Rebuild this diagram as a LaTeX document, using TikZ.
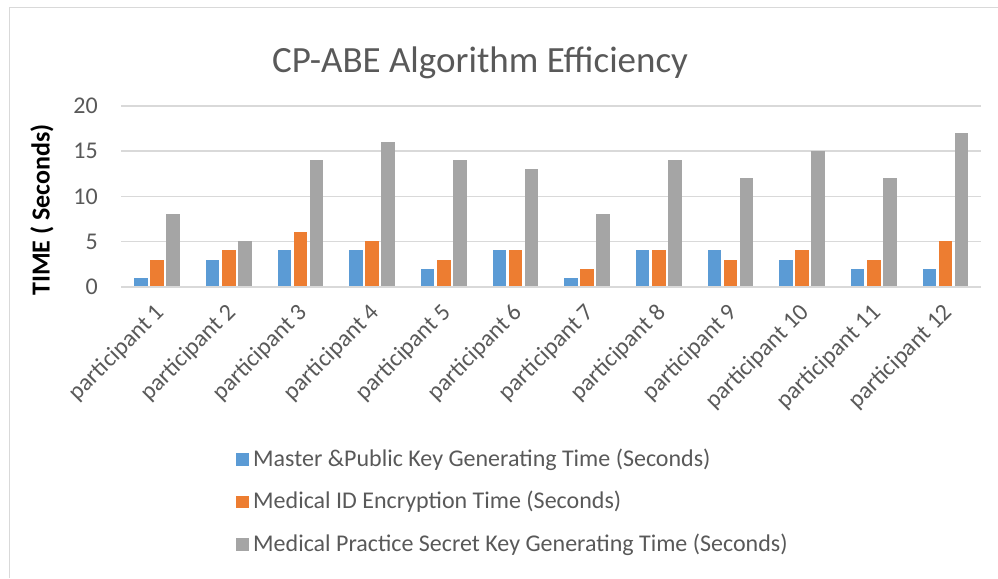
\documentclass[tikz,border=0pt]{standalone}
\usepackage{fontspec}
\setmainfont{Carlito}
\definecolor{serA}{HTML}{5B9BD5}
\definecolor{serB}{HTML}{ED7D31}
\definecolor{serC}{HTML}{A5A5A5}
\definecolor{gridc}{HTML}{D9D9D9}
\definecolor{txtc}{HTML}{595959}
\begin{document}
\begin{tikzpicture}[x=1pt,y=-1pt,
  bar/.style={draw=white,line width=0.6pt},
  gridline/.style={draw=gridc,line width=1.6pt},
  ticklab/.style={anchor=east,text=txtc,font=\fontsize{24}{28}\selectfont,inner sep=0pt},
  catlab/.style={anchor=east,rotate=45,text=txtc,font=\fontsize{24}{28}\selectfont,inner sep=0pt},
  legtext/.style={anchor=west,text=txtc,font=\fontsize{24}{28}\selectfont,inner sep=0pt},
  legbox/.style={minimum size=12.5pt,inner sep=0pt}]
\useasboundingbox (0,0) rectangle (998,578);
% chart frame
\draw[draw=gridc,line width=1.8pt] (9.5,578) -- (9.5,7.5) -- (998,7.5);
% title
\node[text=txtc,font=\fontsize{37}{42}\selectfont,anchor=base] (title) at (480,72) {CP-ABE Algorithm Efficiency};
% gridlines and value labels
\foreach \v in {0,5,10,15,20}{
  \pgfmathsetmacro{\yy}{287-9.065*\v}
  \draw[gridline] (121,\yy) -- (981,\yy);
  \node[ticklab] (tick\v) at (98,\yy) {\v};
}
% axis title
\node[rotate=90,font=\fontsize{26}{30}\selectfont\bfseries] (ytitle) at (42,210) {TIME ( Seconds)};
% bars: participant, series A, B, C
\foreach \i/\a/\b/\c in {1/1/3/8,2/3/4/5,3/4/6/14,4/4/5/16,5/2/3/14,6/4/4/13,7/1/2/8,8/4/4/14,9/4/3/12,10/3/4/15,11/2/3/12,12/2/5/17}{
  \pgfmathsetmacro{\cx}{121+71.667*(\i-0.5)}
  \fill[bar,serA] (\cx-22.3,287) rectangle (\cx-9.8,287-9.065*\a);
  \fill[bar,serB] (\cx-6.3,287) rectangle (\cx+6.3,287-9.065*\b);
  \fill[bar,serC] (\cx+9.8,287) rectangle (\cx+22.3,287-9.065*\c);
  \node[catlab] (cat\i) at (\cx+4,309) {participant \i};
}
\draw[gridline] (121,287) -- (981,287);
% legend
\node[legbox,fill=serA] (keyA) at (242.5,459.5) {};
\node[legtext] (labA) at (253,459.5) {Master \&Public Key Generating Time (Seconds)};
\node[legbox,fill=serB] (keyB) at (242.5,502) {};
\node[legtext] (labB) at (253,502) {Medical ID Encryption Time (Seconds)};
\node[legbox,fill=serC] (keyC) at (242.5,544.5) {};
\node[legtext] (labC) at (253,544.5) {Medical Practice Secret Key Generating Time (Seconds)};
\end{tikzpicture}
\end{document}
